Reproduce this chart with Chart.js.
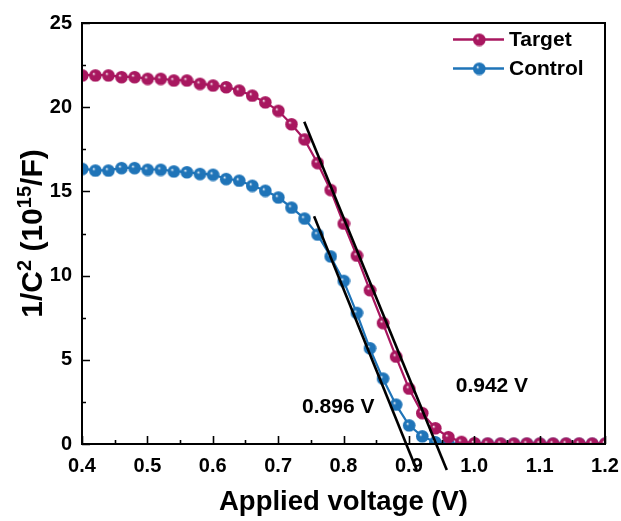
<!DOCTYPE html>
<html>
<head>
<meta charset="utf-8">
<script src="https://cdn.jsdelivr.net/npm/chart.js@4.4.0/dist/chart.umd.min.js"></script>
<style>
    html, body { margin: 0; padding: 0; background: #fff; }
</style>
</head>
<body>
<canvas id="cv" width="621" height="521"></canvas>
<script>
// Mott-Schottky data, 1/C^2 (10^15 / F) vs applied voltage (V)
const voltage = [0.40, 0.42, 0.44, 0.46, 0.48, 0.50, 0.52, 0.54, 0.56, 0.58,
                 0.60, 0.62, 0.64, 0.66, 0.68, 0.70, 0.72, 0.74, 0.76, 0.78,
                 0.80, 0.82, 0.84, 0.86, 0.88, 0.90, 0.92, 0.94, 0.96, 0.98,
                 1.00, 1.02, 1.04, 1.06, 1.08, 1.10, 1.12, 1.14, 1.16, 1.18, 1.20];
const targetVals = [21.9, 21.9, 21.9, 21.8, 21.8, 21.7, 21.7, 21.6, 21.6, 21.4,
                    21.3, 21.2, 21.0, 20.7, 20.3, 19.8, 19.0, 18.1, 16.7, 15.1,
                    13.1, 11.2, 9.15, 7.2, 5.2, 3.3, 1.85, 0.95, 0.42, 0.14,
                    0.06, 0.04, 0.04, 0.04, 0.04, 0.04, 0.04, 0.04, 0.04, 0.04, 0.04];
const controlVals = [16.35, 16.25, 16.25, 16.4, 16.4, 16.3, 16.3, 16.2, 16.15, 16.05,
                     16.0, 15.75, 15.65, 15.35, 15.05, 14.65, 14.05, 13.4, 12.45, 11.15,
                     9.7, 7.8, 5.7, 3.9, 2.35, 1.12, 0.47, 0.12, 0.04, 0.02,
                     0.02, 0.02, 0.02, 0.02, 0.02, 0.02, 0.02, 0.02, 0.02, 0.02, 0.02];
// linear fits (x-intercepts 0.942 V and 0.896 V)
const fitTargetX = [0.740, 0.958];
const fitTargetY = [19.13, -1.54];
const fitControlX = [0.755, 0.912];
const fitControlY = [13.53, -1.54];

const xTicks = [0.4, 0.5, 0.6, 0.7, 0.8, 0.9, 1.0, 1.1, 1.2];
const yTicks = [0, 5, 10, 15, 20, 25];
const seriesNames = ['Target', 'Control'];
const fitLabels = ['0.942 V', '0.896 V'];

const COL_T = '#a8175f';
const COL_C = '#1f74b8';
const FONT = 'Arial, "Liberation Sans", sans-serif';

// shaded ball marker
function ball(color, r) {
    const c = document.createElement('canvas');
    const s = r * 2 + 2;
    c.width = s; c.height = s;
    const g = c.getContext('2d');
    const m = s / 2;
    const grad = g.createRadialGradient(m - r * 0.3, m - r * 0.3, 0, m, m, r);
    grad.addColorStop(0, '#ffffff');
    grad.addColorStop(0.28, color);
    grad.addColorStop(1, color);
    g.fillStyle = grad;
    g.beginPath();
    g.arc(m, m, r, 0, Math.PI * 2);
    g.fill();
    return c;
}
const ballT = ball(COL_T, 6.3);
const ballC = ball(COL_C, 6.3);

const pts = (xs, ys) => xs.map((x, i) => ({x: x, y: ys[i]}));

// frame, inward ticks, legend, fit labels, y title
const decor = {
    id: 'decor',
    afterDraw(chart) {
        const ctx = chart.ctx;
        const a = chart.chartArea;
        const xs = chart.scales.x, ys = chart.scales.y;
        ctx.save();
        ctx.strokeStyle = '#000';
        ctx.lineWidth = 2;
        ctx.strokeRect(a.left, a.top, a.right - a.left, a.bottom - a.top);
        ctx.lineWidth = 1.6;
        ctx.beginPath();
        for (let i = 0; i <= 16; i++) {
            const v = 0.4 + i * 0.05;
            const px = Math.round(xs.getPixelForValue(v)) + 0.5;
            const len = i % 2 === 0 ? 8 : 4;
            ctx.moveTo(px, a.bottom);
            ctx.lineTo(px, a.bottom - len);
        }
        for (let i = 0; i <= 10; i++) {
            const py = Math.round(ys.getPixelForValue(i * 2.5)) + 0.5;
            const len = i % 2 === 0 ? 8 : 4;
            ctx.moveTo(a.left, py);
            ctx.lineTo(a.left + len, py);
        }
        ctx.stroke();

        // legend
        const rows = [[ballT, COL_T, 39.5], [ballC, COL_C, 68.5]];
        rows.forEach((r, i) => {
            ctx.strokeStyle = r[1];
            ctx.lineWidth = 2.5;
            ctx.beginPath();
            ctx.moveTo(453, r[2]);
            ctx.lineTo(504, r[2]);
            ctx.stroke();
            ctx.drawImage(r[0], 479 - r[0].width / 2, r[2] - r[0].height / 2);
            ctx.fillStyle = '#000';
            ctx.font = 'bold 21px ' + FONT;
            ctx.textAlign = 'left';
            ctx.textBaseline = 'middle';
            ctx.fillText(seriesNames[i], 509, r[2] + 1);
        });

        // intercept labels
        ctx.font = 'bold 21px ' + FONT;
        ctx.textAlign = 'center';
        ctx.fillText(fitLabels[0], xs.getPixelForValue(1.027), ys.getPixelForValue(3.46));
        ctx.fillText(fitLabels[1], xs.getPixelForValue(0.792), ys.getPixelForValue(2.21));

        // y axis title with superscripts
        const parts = [['1/C', false], ['2', true], [' (10', false], ['15', true], ['/F)', false]];
        const big = 'bold 30px ' + FONT, small = 'bold 20px ' + FONT;
        let total = 0;
        parts.forEach(p => { ctx.font = p[1] ? small : big; total += ctx.measureText(p[0]).width; });
        ctx.translate(32, (a.top + a.bottom) / 2);
        ctx.rotate(-Math.PI / 2);
        ctx.textAlign = 'left';
        ctx.textBaseline = 'alphabetic';
        let x = -total / 2;
        parts.forEach(p => {
            ctx.font = p[1] ? small : big;
            ctx.fillText(p[0], x, p[1] ? -1 : 10);
            x += ctx.measureText(p[0]).width;
        });
        ctx.restore();
    }
};

new Chart(document.getElementById('cv'), {
    type: 'scatter',
    data: {
        datasets: [
            {
                label: 'fit target', data: pts(fitTargetX, fitTargetY), showLine: true,
                borderColor: '#000', borderWidth: 2.6, pointRadius: 0, clip: false, order: 0
            },
            {
                label: 'fit control', data: pts(fitControlX, fitControlY), showLine: true,
                borderColor: '#000', borderWidth: 2.6, pointRadius: 0, clip: false, order: 0
            },
            {
                label: seriesNames[0], data: pts(voltage, targetVals), showLine: true,
                borderColor: COL_T, borderWidth: 2.2, pointStyle: ballT, order: 1
            },
            {
                label: seriesNames[1], data: pts(voltage, controlVals), showLine: true,
                borderColor: COL_C, borderWidth: 2.2, pointStyle: ballC, order: 2
            }
        ]
    },
    options: {
        responsive: false,
        animation: false,
        layout: {padding: {top: 23, right: 0, left: 0, bottom: 0}},
        plugins: {legend: {display: false}, tooltip: {enabled: false}},
        scales: {
            x: {
                type: 'linear', min: 0.4, max: 1.2,
                afterBuildTicks: s => { s.ticks = xTicks.map(v => ({value: v})); },
                afterFit: s => { s.height = 77; s.paddingRight = 16; s.paddingLeft = 0; },
                grid: {display: false, drawTicks: false},
                border: {display: false},
                ticks: {
                    color: '#000', padding: 10,
                    font: {family: FONT, size: 20, weight: 'bold'},
                    callback: v => Number(v).toFixed(1)
                },
                title: {
                    display: true, text: 'Applied voltage (V)', color: '#000',
                    font: {family: FONT, size: 27.5, weight: 'bold'},
                    padding: {top: 0, bottom: 2}
                }
            },
            y: {
                type: 'linear', min: 0, max: 25,
                afterBuildTicks: s => { s.ticks = yTicks.map(v => ({value: v})); },
                afterFit: s => { s.width = 82; },
                grid: {display: false, drawTicks: false},
                border: {display: false},
                ticks: {
                    color: '#000', padding: 10,
                    font: {family: FONT, size: 20, weight: 'bold'}
                }
            }
        }
    },
    plugins: [decor]
});
</script>
</body>
</html>
